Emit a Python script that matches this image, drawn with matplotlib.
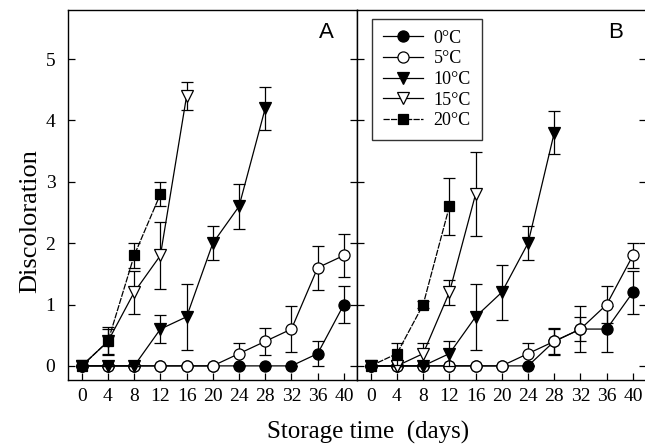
import matplotlib
matplotlib.use("Agg")
import matplotlib.pyplot as plt
from matplotlib.lines import Line2D

plt.rcParams['font.family'] = ['Liberation Serif', 'DejaVu Serif']

# 储藏天数
days = [0, 4, 8, 12, 16, 20, 24, 28, 32, 36, 40]
labels = ['0°C', '5°C', '10°C', '15°C', '20°C']

# 图A数据
a0 = [0, 0, 0, 0, 0, 0, 0, 0, 0, 0.2, 1.0]
a0_err = [0, 0, 0, 0, 0, 0, 0, 0, 0, 0.2, 0.3]
a5 = [0, 0, 0, 0, 0, 0, 0.2, 0.4, 0.6, 1.6, 1.8]
a5_err = [0, 0, 0, 0, 0, 0, 0.18, 0.22, 0.37, 0.36, 0.35]
a10 = [0, 0, 0, 0.6, 0.8, 2.0, 2.6, 4.2]
a10_err = [0, 0, 0, 0.23, 0.54, 0.28, 0.37, 0.35]
a15 = [0, 0.4, 1.2, 1.8, 4.4]
a15_err = [0, 0.2, 0.35, 0.55, 0.23]
a20 = [0, 0.4, 1.8, 2.8]
a20_err = [0, 0.23, 0.2, 0.2]

# 图B数据
b0 = [0, 0, 0, 0, 0, 0, 0, 0.4, 0.6, 0.6, 1.2]
b0_err = [0, 0, 0, 0, 0, 0, 0, 0.2, 0.2, 0.37, 0.35]
b5 = [0, 0, 0, 0, 0, 0, 0.2, 0.4, 0.6, 1.0, 1.8]
b5_err = [0, 0, 0, 0, 0, 0, 0.18, 0.22, 0.37, 0.3, 0.2]
b10 = [0, 0, 0, 0.2, 0.8, 1.2, 2.0, 3.8]
b10_err = [0, 0, 0, 0.2, 0.54, 0.45, 0.28, 0.35]
b15 = [0, 0, 0.2, 1.2, 2.8]
b15_err = [0, 0, 0.18, 0.2, 0.68]
b20 = [0, 0.2, 1.0, 2.6]
b20_err = [0, 0.18, 0.05, 0.47]

styles = [
    dict(marker='o', mfc='black', ms=8, ls='-'),
    dict(marker='o', mfc='white', ms=8, ls='-'),
    dict(marker='v', mfc='black', ms=9, ls='-'),
    dict(marker='v', mfc='white', ms=9, ls='-'),
    dict(marker='s', mfc='black', ms=7, ls=(0, (5, 1))),
]

fig = plt.figure(figsize=(6.45, 4.47), dpi=100)
ax1 = fig.add_axes([68 / 645, 67 / 447, 289 / 645, 370 / 447])
ax2 = fig.add_axes([357 / 645, 67 / 447, 289 / 645, 370 / 447])


def draw_panel(ax, series, errs, tag):
    for i, (y, e) in enumerate(zip(series, errs)):
        st = styles[i]
        ax.errorbar(days[:len(y)], y, yerr=e, color='black', lw=0.9,
                    marker=st['marker'], mfc=st['mfc'], mec='black', mew=0.9,
                    ms=st['ms'], ls=st['ls'], capsize=4.5, elinewidth=0.9,
                    capthick=0.9, zorder=3 + i)
    ax.set_xlim(-2.1, 42)
    ax.set_ylim(-0.23, 5.8)
    ax.set_xticks(days)
    ax.set_yticks([0, 1, 2, 3, 4, 5])
    ax.tick_params(direction='in', length=5, width=0.9, labelsize=14,
                   right=True, top=False)
    ax.tick_params(axis='x', pad=6)
    ax.tick_params(axis='y', pad=9)
    for s in ax.spines.values():
        s.set_linewidth(1.0)
    ax.text(0.895, 0.94, tag, transform=ax.transAxes, fontsize=16,
            family='Liberation Sans', ha='center', va='center')


draw_panel(ax1, [a0, a5, a10, a15, a20],
           [a0_err, a5_err, a10_err, a15_err, a20_err], 'A')
draw_panel(ax2, [b0, b5, b10, b15, b20],
           [b0_err, b5_err, b10_err, b15_err, b20_err], 'B')

ax2.tick_params(labelleft=False)
fig.text(30 / 645, 1 - 221 / 447, 'Discoloration', fontsize=19,
         rotation=90, ha='center', va='center')
fig.text(368 / 645, 1 - 432 / 447, 'Storage time  (days)', fontsize=18,
         ha='center', va='center')

# 图例只画线和标记
handles = [Line2D([], [], color='black', lw=0.9, marker=st['marker'],
                  mfc=st['mfc'], mec='black', mew=0.9, ms=st['ms'],
                  ls=st['ls']) for st in styles]
leg = ax2.legend(handles, labels, loc='upper left',
                 bbox_to_anchor=(0.052, 0.976), borderaxespad=0,
                 fontsize=13, frameon=True, fancybox=False,
                 edgecolor='black', handlelength=2.2, labelspacing=0.2,
                 handletextpad=0.6, borderpad=0.6)
leg.get_frame().set_linewidth(1.0)

fig.savefig('out.png', dpi=100)
